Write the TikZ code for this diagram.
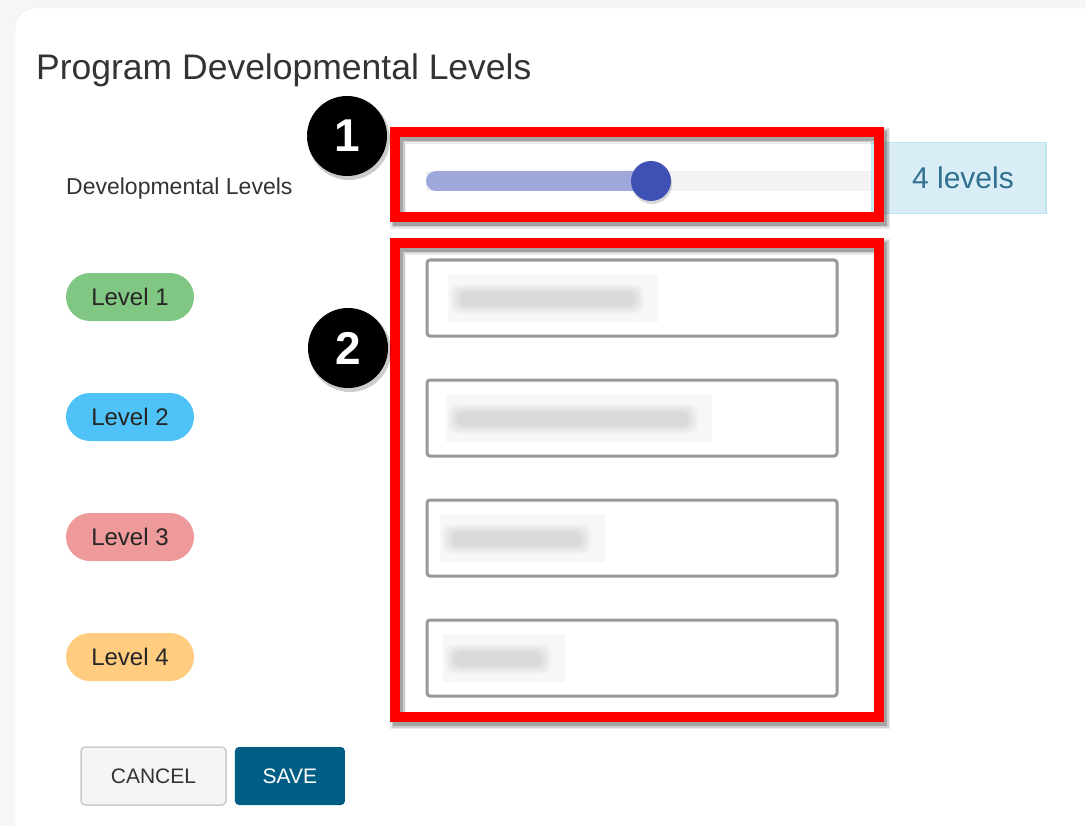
\documentclass[tikz,border=0pt]{standalone}
\usepackage{fontspec}
\setmainfont{Liberation Sans}
\usetikzlibrary{positioning}

\definecolor{pagebg}{HTML}{F6F6F6}
\definecolor{textdark}{HTML}{333333}
\definecolor{trackon}{HTML}{9FA8DA}
\definecolor{trackoff}{HTML}{F3F3F3}
\definecolor{thumb}{HTML}{3F51B5}
\definecolor{infobg}{HTML}{D9EDF7}
\definecolor{infoline}{HTML}{BCE8F1}
\definecolor{infotext}{HTML}{31708F}
\definecolor{fieldline}{HTML}{999999}
\definecolor{lvlgreen}{HTML}{81C784}
\definecolor{lvlblue}{HTML}{4FC3F7}
\definecolor{lvlred}{HTML}{EF9A9A}
\definecolor{lvlorange}{HTML}{FFCC80}
\definecolor{savebg}{HTML}{005E84}
\definecolor{cancelbg}{HTML}{F5F5F5}
\definecolor{cancelline}{HTML}{CCCCCC}
\definecolor{markred}{HTML}{FF0000}

\begin{document}
\begin{tikzpicture}[x=1pt,y=-1pt,
    badge/.style={rounded corners=24pt, minimum width=128pt, minimum height=48pt,
      inner sep=0pt, text=black!85, font=\fontsize{24}{24}\selectfont},
    button/.style={rounded corners=4pt, minimum height=58pt, inner sep=0pt,
      font=\fontsize{21}{21}\selectfont},
    field/.style={draw=fieldline, line width=3pt, rounded corners=3pt, fill=white},
    frame/.style={draw=markred, line width=10pt},
    callout/.style={circle, fill=black, text=white, minimum size=80pt, inner sep=0pt,
      font=\fontsize{46}{46}\bfseries\selectfont}]

  \useasboundingbox (0,0) rectangle (1086,826);
  \clip (0,0) rectangle (1086,826);
  \fill[pagebg] (0,0) rectangle (1086,826);
  \draw[black!8, fill=white, rounded corners=20pt] (15,8) rectangle (1120,860);

  \node[anchor=base west, inner sep=0pt, text=textdark, font=\fontsize{35.5}{36}\selectfont] (title) at (36,80) {Program Developmental Levels};
  \node[anchor=base west, inner sep=0pt, text=textdark, font=\fontsize{23}{23}\selectfont] (devlbl) at (66,195) {Developmental Levels};

  \fill[trackoff] (426,171) rectangle (880,191);
  \fill[trackon, rounded corners=10pt] (426,171) rectangle (660,191);
  \fill[black, opacity=0.15] (652,184) circle (20pt);
  \fill[thumb] (651,181) circle (20pt);

  \node[fill=infobg, draw=infoline, line width=1.5pt, minimum width=174pt, minimum height=71pt,
    inner sep=0pt, text=infotext, font=\fontsize{30}{30}\selectfont] (count) at (959,178) {\hspace{8pt}4 levels};

  \foreach \y/\a/\b in {298/448/658, 418/446/712, 538/440/605, 658/443/565} {
    \draw[field] (427,\y-38) rectangle (837,\y+38);
    \fill[black!3] (\a,\y-24) rectangle (\b,\y+24);
    \foreach \k in {0,...,5}
      \fill[black, opacity=0.02, rounded corners=8pt] (\a+12-\k*2,\y-6-\k*1.5) rectangle (\b-24+\k*2,\y+8+\k*1.5);
  }

  \foreach \w/\o in {16/0.08, 13/0.12, 10/0.2} {
    \draw[black, line width=\w pt, opacity=\o] (398,136) rectangle (882,221);
    \draw[black, line width=\w pt, opacity=\o] (398,247) rectangle (882,721);
  }
  \draw[frame] (395,132) rectangle (879,217);
  \draw[frame] (395,243) rectangle (879,717);

  \fill[black, opacity=0.2] (349,139) circle (41pt);
  \fill[black, opacity=0.2] (350,351) circle (41pt);
  \node[callout] (num1) at (347,136) {1};
  \node[callout] (num2) at (348,348) {2};

  \foreach \i/\c in {1/lvlgreen, 2/lvlblue, 3/lvlred, 4/lvlorange}
    \node[badge, fill=\c] (lvl\i) at (130,177+120*\i) {Level \i};

  \node[button, fill=cancelbg, draw=cancelline, line width=1.5pt, minimum width=145pt, text=textdark] (cancel) at (153.5,776) {CANCEL};
  \node[button, fill=savebg, minimum width=110pt, text=white, right=8pt of cancel] (save) {SAVE};
\end{tikzpicture}
\end{document}
